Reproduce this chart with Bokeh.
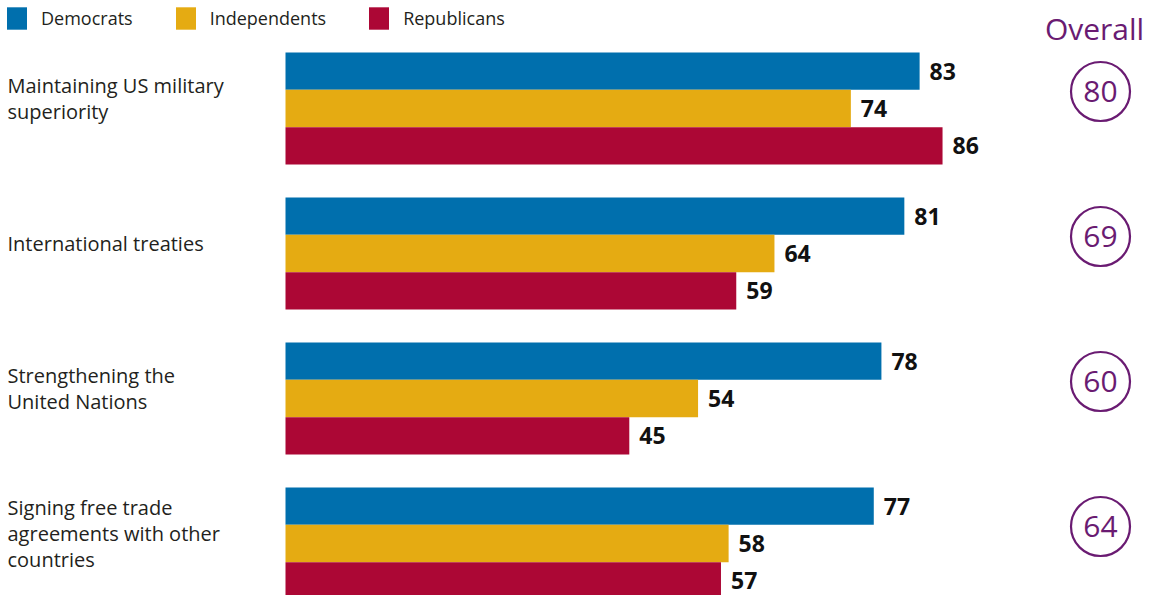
from bokeh.plotting import figure
from bokeh.models import Range1d, ColumnDataSource
from bokeh.embed import file_html
from bokeh.resources import INLINE
from bokeh.core.properties import value

# ---- data ----
categories = [
    "Maintaining US military\nsuperiority",
    "International treaties",
    "Strengthening the\nUnited Nations",
    "Signing free trade\nagreements with other\ncountries",
]
democrats = [83, 81, 78, 77]
independents = [74, 64, 54, 58]
republicans = [86, 59, 45, 57]
overall = [80, 69, 60, 64]
series_names = ["Democrats", "Independents", "Republicans"]

# ---- style ----
BLUE = "#006FAD"
YELLOW = "#E5AB12"
RED = "#AC0735"
PURPLE = "#6A1B72"
FONT = "Open Sans"

W, H = 1146, 595
PX_PER_UNIT = 7.64
ZERO_PX = 285
GROUP_PX = 145
FIRST_PX = 108

x_start = -ZERO_PX / PX_PER_UNIT
x_end = (W - ZERO_PX) / PX_PER_UNIT
y_top = -FIRST_PX / GROUP_PX
y_bottom = (H - FIRST_PX) / GROUP_PX

p = figure(width=W, height=H, output_backend="svg", toolbar_location=None,
           x_range=Range1d(x_start, x_end), y_range=Range1d(y_bottom, y_top),
           min_border=0, outline_line_color=None)
p.axis.visible = False
p.xgrid.visible = False
p.ygrid.visible = False
p.background_fill_color = "white"
p.border_fill_color = "white"

bar_h = 37.3 / GROUP_PX
idx = list(range(len(categories)))
series = [democrats, independents, republicans]
colors = [BLUE, YELLOW, RED]
offsets = [-bar_h, 0.0, bar_h]

for name, vals, col, off in zip(series_names, series, colors, offsets):
    src = ColumnDataSource(dict(y=[i + off for i in idx], v=vals,
                                t=[str(v) for v in vals]))
    p.hbar(y="y", left=0, right="v", height=bar_h, source=src,
           fill_color=col, line_color=None, legend_label=name)
    p.text(x="v", y="y", text="t", source=src, x_offset=10,
           text_font=value(FONT), text_font_style="bold",
           text_font_size="23px", text_color="#111111",
           text_align="left", text_baseline="middle")

# category labels
lab_src = ColumnDataSource(dict(x=[x_start + 7 / PX_PER_UNIT] * len(idx),
                                y=[i - 10 / GROUP_PX for i in idx],
                                t=categories))
p.text(x="x", y="y", text="t", source=lab_src, text_font=value(FONT),
       text_font_size="20px", text_color="#231F20", text_align="left",
       text_baseline="middle", text_line_height=0.98)

# overall circles
cx = (1100 - ZERO_PX) / PX_PER_UNIT
ov_src = ColumnDataSource(dict(x=[cx] * len(idx),
                               y=[i - 17 / GROUP_PX for i in idx],
                               t=[str(v) for v in overall]))
p.scatter(x="x", y="y", source=ov_src, marker="circle", size=59,
          fill_color=None, line_color=PURPLE, line_width=2.2)
p.text(x="x", y="y", text="t", source=ov_src, text_font=value(FONT),
       text_font_size="30px", text_color=PURPLE, text_align="center",
       text_baseline="middle")

p.text(x=[(1094 - ZERO_PX) / PX_PER_UNIT], y=[y_top + 28 / GROUP_PX],
       text=["Overall"], text_font=value(FONT), text_font_size="30px",
       text_color=PURPLE, text_align="center", text_baseline="middle")

# legend
lg = p.legend[0]
lg.location = "top_left"
lg.orientation = "horizontal"
lg.glyph_width = 25
lg.glyph_height = 28
lg.label_standoff = 12
lg.spacing = 40
lg.padding = 0
lg.margin = 4
lg.border_line_color = None
lg.background_fill_alpha = 0
lg.label_text_font = FONT
lg.label_text_font_size = "18px"
lg.label_text_color = "#231F20"
lg.label_height = 28

open("out.html", "w").write(file_html(p, INLINE))
